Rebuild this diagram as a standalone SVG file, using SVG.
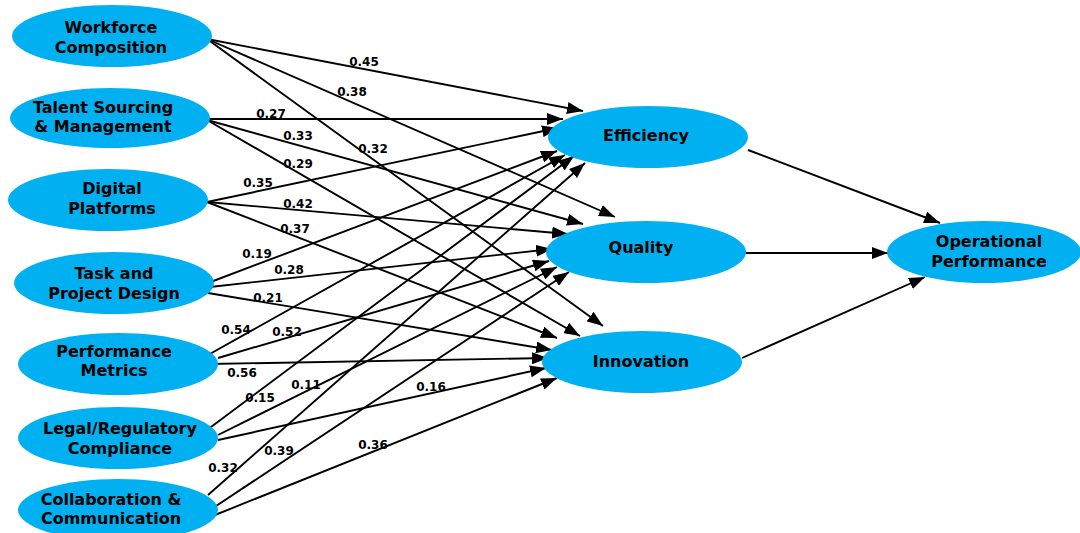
<svg xmlns="http://www.w3.org/2000/svg" width="1080" height="533" viewBox="0 0 1080 533">
<style>
.node{fill:#00B0F0;}
.nt{font-family:"DejaVu Sans",Verdana,sans-serif;font-weight:bold;font-size:16px;fill:#000;text-anchor:middle;}
.lbl{font-family:"DejaVu Sans",Verdana,sans-serif;font-weight:bold;font-size:12px;fill:#000;text-anchor:middle;}
.edge{stroke:#000;stroke-width:1.9;fill:none;marker-end:url(#ah);}
</style>
<defs>
<marker id="ah" markerUnits="userSpaceOnUse" markerWidth="16" markerHeight="12" refX="16" refY="6" orient="auto">
<path d="M0,0 L16,6 L0,12 Z" fill="#000"/>
</marker>
</defs>
<rect width="1080" height="533" fill="#fff"/>
<g id="connectors">
<path class="edge" d="M207,39 L583,111"/>
<path class="edge" d="M207,39 L615,217"/>
<path class="edge" d="M207,39 L603,326"/>
<path class="edge" d="M203,119 L563,119"/>
<path class="edge" d="M207,120 L583,224"/>
<path class="edge" d="M207,120 L580,336"/>
<path class="edge" d="M207,202 L558,128"/>
<path class="edge" d="M207,202 L568,234"/>
<path class="edge" d="M207,202 L557,338"/>
<path class="edge" d="M208,283 L557,151"/>
<path class="edge" d="M210,287 L552,249"/>
<path class="edge" d="M208,293 L552,350"/>
<path class="edge" d="M208,355 L565,155"/>
<path class="edge" d="M218,358 L549,261"/>
<path class="edge" d="M208,364 L548,358"/>
<path class="edge" d="M207,430 L574,156"/>
<path class="edge" d="M218,435 L557,267"/>
<path class="edge" d="M218,440 L546,368"/>
<path class="edge" d="M208,495 L585,163"/>
<path class="edge" d="M213,508 L569,272"/>
<path class="edge" d="M210,517 L557,378"/>
<path class="edge" d="M748,150 L940,223"/>
<path class="edge" d="M745,253 L888,253"/>
<path class="edge" d="M742,358 L925,277"/>
</g>
<g id="edge-labels">
<text class="lbl" x="364" y="66">0.45</text>
<text class="lbl" x="352" y="96">0.38</text>
<text class="lbl" x="271" y="118">0.27</text>
<text class="lbl" x="298" y="140">0.33</text>
<text class="lbl" x="373" y="153">0.32</text>
<text class="lbl" x="298" y="168">0.29</text>
<text class="lbl" x="258" y="187">0.35</text>
<text class="lbl" x="298" y="208">0.42</text>
<text class="lbl" x="295" y="233">0.37</text>
<text class="lbl" x="257" y="258">0.19</text>
<text class="lbl" x="289" y="274">0.28</text>
<text class="lbl" x="268" y="302">0.21</text>
<text class="lbl" x="236" y="334">0.54</text>
<text class="lbl" x="287" y="336">0.52</text>
<text class="lbl" x="242" y="377">0.56</text>
<text class="lbl" x="306" y="389">0.11</text>
<text class="lbl" x="260" y="402">0.15</text>
<text class="lbl" x="431" y="391">0.16</text>
<text class="lbl" x="223" y="472">0.32</text>
<text class="lbl" x="279" y="455">0.39</text>
<text class="lbl" x="373" y="449">0.36</text>
</g>
<g id="workforce-composition">
<ellipse class="node" cx="112" cy="36" rx="100" ry="31"/>
<text class="nt" x="111" y="33">Workforce</text>
<text class="nt" x="111" y="53">Composition</text>
</g>
<g id="talent-sourcing">
<ellipse class="node" cx="110" cy="118" rx="100" ry="30"/>
<text class="nt" x="103" y="113">Talent Sourcing</text>
<text class="nt" x="103" y="132">&amp; Management</text>
</g>
<g id="digital-platforms">
<ellipse class="node" cx="108" cy="200" rx="100" ry="31"/>
<text class="nt" x="112" y="194">Digital</text>
<text class="nt" x="112" y="214">Platforms</text>
</g>
<g id="task-project-design">
<ellipse class="node" cx="114" cy="283" rx="100" ry="31"/>
<text class="nt" x="114" y="279">Task and</text>
<text class="nt" x="114" y="299">Project Design</text>
</g>
<g id="performance-metrics">
<ellipse class="node" cx="118" cy="364" rx="100" ry="31"/>
<text class="nt" x="114" y="357">Performance</text>
<text class="nt" x="114" y="376">Metrics</text>
</g>
<g id="legal-regulatory">
<ellipse class="node" cx="118" cy="438" rx="100" ry="31"/>
<text class="nt" x="120" y="434">Legal/Regulatory</text>
<text class="nt" x="120" y="454">Compliance</text>
</g>
<g id="collaboration">
<ellipse class="node" cx="118" cy="510" rx="100" ry="31"/>
<text class="nt" x="111" y="505">Collaboration &amp;</text>
<text class="nt" x="111" y="524">Communication</text>
</g>
<g id="efficiency">
<ellipse class="node" cx="648" cy="137" rx="100" ry="31"/>
<text class="nt" x="646" y="141">Efficiency</text>
</g>
<g id="quality">
<ellipse class="node" cx="646" cy="252" rx="100" ry="31"/>
<text class="nt" x="641" y="253">Quality</text>
</g>
<g id="innovation">
<ellipse class="node" cx="642" cy="362" rx="100" ry="31"/>
<text class="nt" x="641" y="367">Innovation</text>
</g>
<g id="operational-performance">
<ellipse class="node" cx="984" cy="252" rx="97" ry="31"/>
<text class="nt" x="989" y="247">Operational</text>
<text class="nt" x="989" y="267">Performance</text>
</g>
</svg>
